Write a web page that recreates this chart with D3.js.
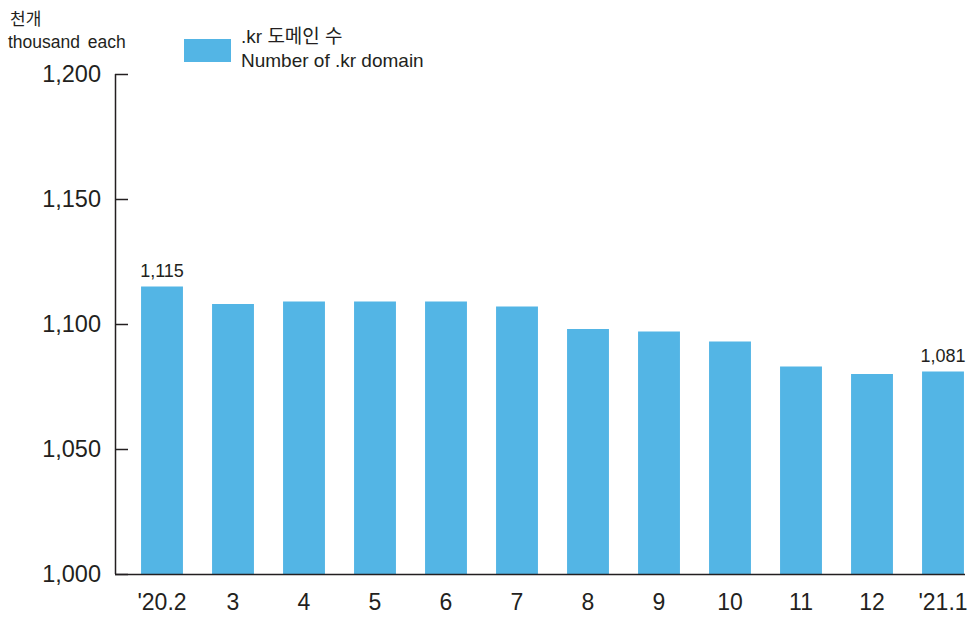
<!DOCTYPE html>
<html>
<head>
<meta charset="utf-8">
<script src="https://cdn.jsdelivr.net/npm/d3@7"></script>
<style>
  html, body { margin: 0; padding: 0; background: #fff; }
  svg text { font-family: "Liberation Sans", Arial, "Noto Sans CJK KR", sans-serif; fill: #231f20; }
</style>
</head>
<body>
<div id="chart"></div>
<script>
// ---- Data ----
const months = ["'20.2", "3", "4", "5", "6", "7", "8", "9", "10", "11", "12", "'21.1"];
const domains = [1115, 1108, 1109, 1109, 1109, 1107, 1098, 1097, 1093, 1083, 1080, 1081];
const labelled = ["'20.2", "'21.1"];
const yTicks = [1000, 1050, 1100, 1150, 1200];

const W = 978, H = 618;
const BAR = "#53b5e5";
const INK = "#231f20";

const svg = d3.select("#chart").append("svg")
  .attr("width", W)
  .attr("height", H);

// ---- Scales ----
const x = d3.scaleBand()
  .domain(months)
  .range([126.5, 978.5])
  .paddingInner(0.41)
  .paddingOuter(0.205);

const y = d3.scaleLinear()
  .domain([1000, 1200])
  .range([574, 74]);

// ---- Bars ----
svg.selectAll("rect.bar")
  .data(months)
  .join("rect")
  .attr("class", "bar")
  .attr("x", d => x(d))
  .attr("width", x.bandwidth())
  .attr("y", (d, i) => y(domains[i]))
  .attr("height", (d, i) => y(1000) - y(domains[i]))
  .attr("fill", BAR);

// ---- Value labels (first & last) ----
svg.selectAll("text.val")
  .data(months.filter(m => labelled.includes(m)))
  .join("text")
  .attr("class", "val")
  .attr("x", d => x(d) + x.bandwidth() / 2)
  .attr("y", d => y(domains[months.indexOf(d)]) - 10)
  .attr("text-anchor", "middle")
  .attr("font-size", 18)
  .text(d => d3.format(",")(domains[months.indexOf(d)]));

// ---- Y axis ----
const yAxis = svg.append("g")
  .attr("transform", "translate(115,0)")
  .call(d3.axisRight(y).tickValues(yTicks).tickSize(13).tickFormat(""));
yAxis.select(".domain").attr("d", `M0.5,${y(1200)}V${y(1000)}`).attr("stroke", INK).attr("stroke-width", 1.5);
yAxis.selectAll(".tick line").attr("stroke", INK).attr("stroke-width", 1.5);

svg.selectAll("text.ytick")
  .data(yTicks)
  .join("text")
  .attr("class", "ytick")
  .attr("x", 101)
  .attr("y", d => y(d))
  .attr("dy", "0.36em")
  .attr("text-anchor", "end")
  .attr("font-size", 23.5)
  .text(d => d3.format(",")(d));

// ---- X axis ----
const xAxis = svg.append("g")
  .attr("transform", `translate(0,${y(1000)})`)
  .call(d3.axisBottom(x).tickSize(0).tickPadding(20));
xAxis.select(".domain").attr("d", "M115,0.5H965").attr("stroke", INK).attr("stroke-width", 1.5);
xAxis.selectAll(".tick text")
  .attr("font-size", 23)
  .attr("fill", INK)
  .style("font-family", '"Liberation Sans", Arial, sans-serif');

// ---- Unit label ----
svg.append("text").attr("x", 10).attr("y", 25).attr("font-size", 17).text("천개");
svg.append("text").attr("x", 8).attr("y", 48).attr("font-size", 17.5).attr("word-spacing", 3).text("thousand each");

// ---- Legend ----
svg.append("rect").attr("x", 184).attr("y", 39).attr("width", 47).attr("height", 23).attr("fill", BAR);
svg.append("text").attr("x", 241).attr("y", 43).attr("font-size", 19).text(".kr 도메인 수");
svg.append("text").attr("x", 241).attr("y", 67).attr("font-size", 19).text("Number of .kr domain");
</script>
</body>
</html>
